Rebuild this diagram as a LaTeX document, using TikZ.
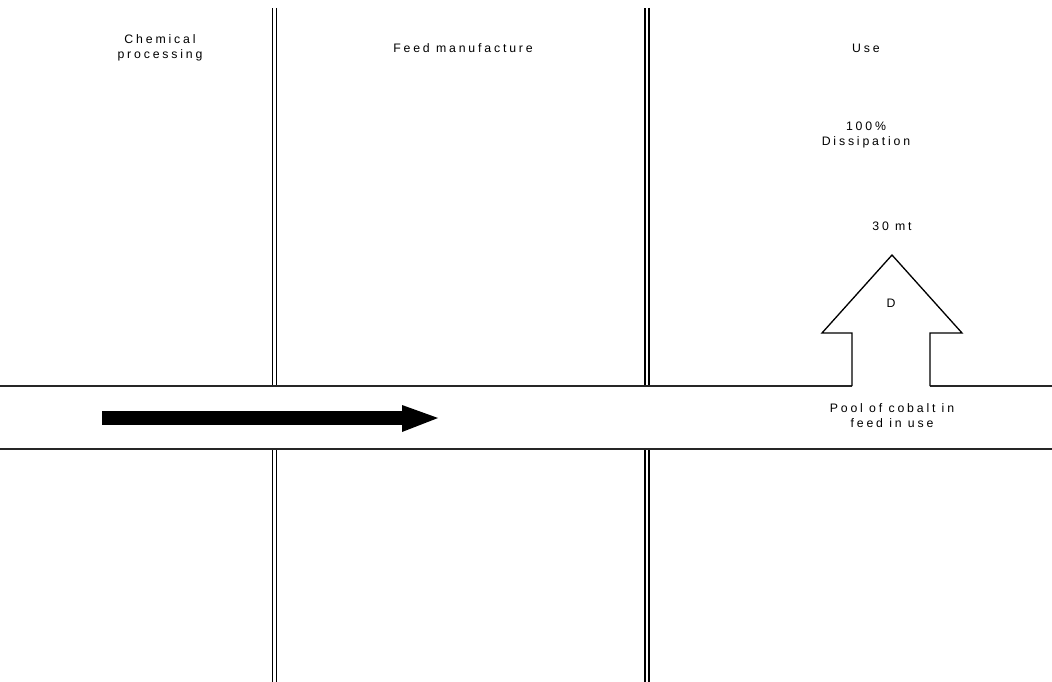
\documentclass[tikz,border=0pt]{standalone}
\usepackage{fontspec}
\setmainfont{Liberation Sans}[LetterSpace=23]
\usepackage{tikz}
\usetikzlibrary{positioning,calc}
\tikzset{
  wall/.style={draw=black,line width=1pt,double=white,double distance=1.4pt},
  band/.style={draw=black!85,line width=0.7pt},
  lbl/.style={inner sep=0pt,align=center,font=\fontsize{7}{8.6}\selectfont},
  flow/.style={draw=black,line width=0.75pt,fill=white,line join=miter},
}
\begin{document}
\begin{tikzpicture}[x=0.02cm,y=-0.02cm]
\useasboundingbox (0,0) rectangle (1052,682);
% stage walls
\coordinate (w1t) at (274.5,8);\coordinate (w1a) at (274.5,386);\coordinate (w1b) at (274.5,449);\coordinate (w1e) at (274.5,682);
\coordinate (w2t) at (647,8);\coordinate (w2a) at (647,386);\coordinate (w2b) at (647,449);\coordinate (w2e) at (647,682);
\draw[wall](w1t)--(w1a);\draw[wall](w1b)--(w1e);
\draw[wall](w2t)--(w2a);\draw[wall](w2b)--(w2e);
% pool band
\coordinate (bl) at (0,386);\coordinate (br) at (1052,386);\coordinate (dl) at (0,449);\coordinate (dr) at (1052,449);
\coordinate (sl) at (852,386);\coordinate (sr) at (930,386);
\draw[band](bl)--(sl);\draw[band](sr)--(br);\draw[band](dl)--(dr);
% dissipation arrow
\draw[flow](sl)--(852,333)--(822,333)--(892,255)--(962,333)--(930,333)--(sr);
% main flow arrow
\coordinate (fs) at (102,418);\coordinate (fe) at (404,418);
\draw[line width=8pt](fs)--(fe);
\fill (402,405)--(438,418)--(402,432)--cycle;
% labels
\node[lbl](chem) at (160,48){Chemical\\processing};
\node[lbl](feed) at (463,48){Feed manufacture};
\node[lbl](use) at (866,48){Use};
\node[lbl](diss) at (866,135){100\%\\Dissipation};
\node[lbl](amt) at (892,226){30 mt};
\node[lbl](d) at (891,303){D};
\node[lbl](pool) at (892,416){Pool of cobalt in\\feed in use};
\end{tikzpicture}
\end{document}
